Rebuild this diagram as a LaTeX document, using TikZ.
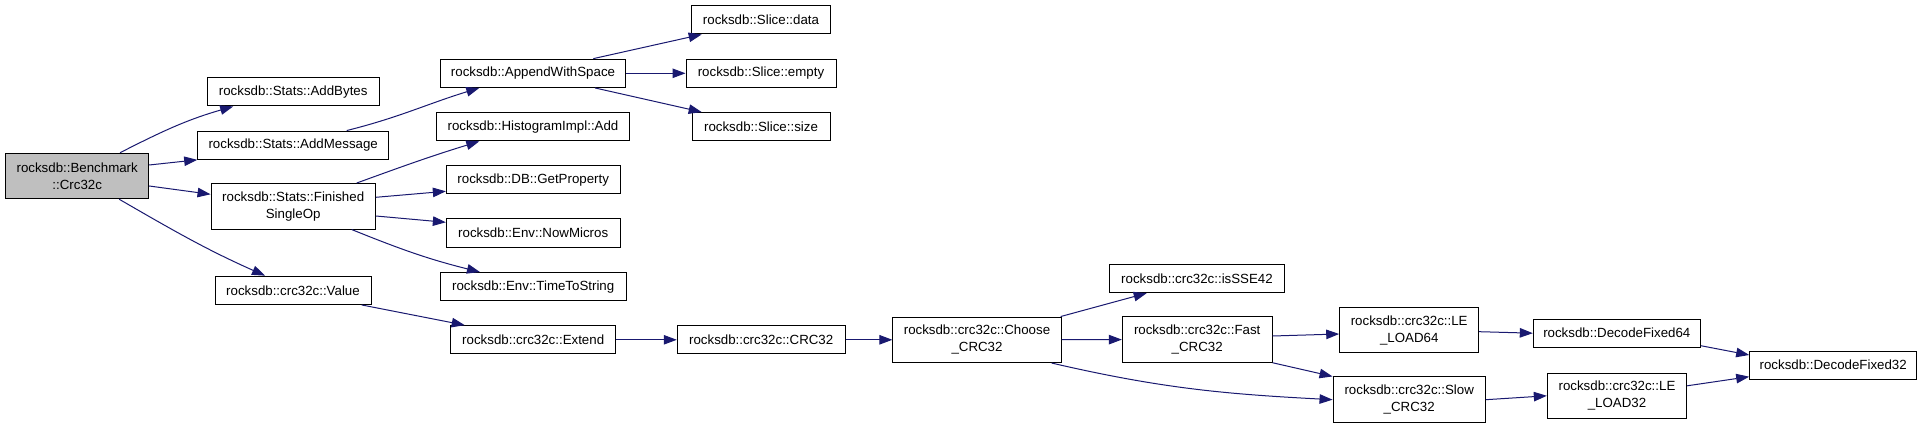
\documentclass[tikz,border=0pt]{standalone}
\usepackage{fontspec}
\setmainfont{Liberation Sans}
\usetikzlibrary{arrows.meta}
\definecolor{edgeblue}{HTML}{191970}
\definecolor{selgray}{HTML}{BFBFBF}

\begin{document}
\begin{tikzpicture}[x=1pt, y=1pt,
  fn/.style={draw=black, line width=1pt, fill=white, align=center, inner sep=0pt, minimum height=28.3pt, font=\fontsize{13.3}{17}\selectfont},
  fn2/.style={fn, minimum height=45.5pt},
  cur/.style={fill=selgray},
  arr/.style={-{Triangle[length=13pt, width=9.5pt]}, line width=1pt, edgeblue}]
  \path[fill=white] (0,0) rectangle (1923,428);
  \node[fn2, cur, minimum width=143pt] (bench) at (77.2,252) {rocksdb::Benchmark\\::Crc32c};
  \node[fn, minimum width=172.3pt] (addbytes) at (293.2,336.2) {rocksdb::Stats::AddBytes};
  \node[fn, minimum width=191pt] (addmsg) at (293.2,282.8) {rocksdb::Stats::AddMessage};
  \node[fn2, minimum width=164.3pt] (finished) at (293.2,221.7) {rocksdb::Stats::Finished\\SingleOp};
  \node[fn, minimum width=156pt] (value) at (293,137.7) {rocksdb::crc32c::Value};
  \node[fn, minimum width=184.6pt] (append) at (533,354.7) {rocksdb::AppendWithSpace};
  \node[fn, minimum width=192.6pt] (histadd) at (533,301.3) {rocksdb::HistogramImpl::Add};
  \node[fn, minimum width=173.7pt] (getprop) at (533.2,248.3) {rocksdb::DB::GetProperty};
  \node[fn, minimum width=173.7pt] (nowmicros) at (533.2,195) {rocksdb::Env::NowMicros};
  \node[fn, minimum width=185.7pt] (timetostr) at (533.2,141.3) {rocksdb::Env::TimeToString};
  \node[fn, minimum width=139.4pt] (slicedata) at (761,408.2) {rocksdb::Slice::data};
  \node[fn, minimum width=150pt] (sliceempty) at (761,354.7) {rocksdb::Slice::empty};
  \node[fn, minimum width=138pt] (slicesize) at (761,301.3) {rocksdb::Slice::size};
  \node[fn, minimum width=164.7pt] (extend) at (533.2,88.2) {rocksdb::crc32c::Extend};
  \node[fn, minimum width=167.9pt] (crc32) at (761.2,88.2) {rocksdb::crc32c::CRC32};
  \node[fn2, minimum width=168.3pt] (choose) at (977,88.2) {rocksdb::crc32c::Choose\\\_CRC32};
  \node[fn, minimum width=175.4pt] (isse) at (1197,149.5) {rocksdb::crc32c::isSSE42};
  \node[fn2, minimum width=149.7pt] (fast) at (1197.2,88.5) {rocksdb::crc32c::Fast\\\_CRC32};
  \node[fn2, minimum width=139pt] (leload64) at (1409.2,97.8) {rocksdb::crc32c::LE\\\_LOAD64};
  \node[fn2, minimum width=152.3pt] (slow) at (1409.2,28.3) {rocksdb::crc32c::Slow\\\_CRC32};
  \node[fn, minimum width=167pt] (dec64) at (1616.8,94.8) {rocksdb::DecodeFixed64};
  \node[fn, minimum width=167pt] (dec32) at (1833.2,62.8) {rocksdb::DecodeFixed32};
  \node[fn2, minimum width=139.4pt] (leload32) at (1617,32.2) {rocksdb::crc32c::LE\\\_LOAD32};
  \draw[arr] ([xshift=42.8pt]bench.north) to[out=27, in=196] ([xshift=-60pt]addbytes.south);
  \draw[arr] ([yshift=11pt]bench.east) -- (addmsg.south west);
  \draw[arr] ([yshift=-10pt]bench.east) -- ([yshift=12pt]finished.west);
  \draw[arr] ([xshift=42pt]bench.south) to[out=-30, in=156] ([xshift=-28pt]value.north);
  \draw[arr] ([xshift=53.5pt]addmsg.north) to[out=14, in=197] ([xshift=-53.7pt]append.south);
  \draw[arr] ([xshift=63.5pt]finished.north) to[out=20, in=197] ([xshift=-53.7pt]histadd.south);
  \draw[arr] ([yshift=9pt]finished.east) -- ([yshift=-11.6pt]getprop.west);
  \draw[arr] ([yshift=-9.7pt]finished.east) -- ([yshift=10.7pt]nowmicros.west);
  \draw[arr] ([xshift=58.5pt]finished.south) to[out=-22, in=166] ([xshift=-53.2pt]timetostr.north);
  \draw[arr] ([xshift=60.3pt]append.north) -- ([xshift=-59.3pt]slicedata.south);
  \draw[arr] (append) -- (sliceempty);
  \draw[arr] ([xshift=62pt]append.south) -- ([xshift=-59.3pt]slicesize.north);
  \draw[arr] ([xshift=68.7pt]value.south) -- ([xshift=-68.5pt]extend.north);
  \draw[arr] (extend) -- (crc32); \draw[arr] (crc32) -- (choose);
  \draw[arr] ([xshift=-1pt]choose.north east) -- ([xshift=-50.3pt]isse.south);
  \draw[arr] (choose) -- (fast);
  \draw[arr] ([xshift=-10pt]choose.south east) to[out=-13, in=177] (slow.west);
  \draw[arr] ([yshift=3.5pt]fast.east) -- ([yshift=-3.8pt]leload64.west);
  \draw[arr] (fast.south east) -- (slow.north west);
  \draw[arr] ([yshift=-1.5pt]leload64.east) -- (dec64.west);
  \draw[arr] (slow.east) -- (leload32.west);
  \draw[arr] ([yshift=-12.5pt]dec64.east) -- ([yshift=10.2pt]dec32.west);
  \draw[arr] ([yshift=10pt]leload32.east) -- ([yshift=-11.5pt]dec32.west);
\end{tikzpicture}
\end{document}
